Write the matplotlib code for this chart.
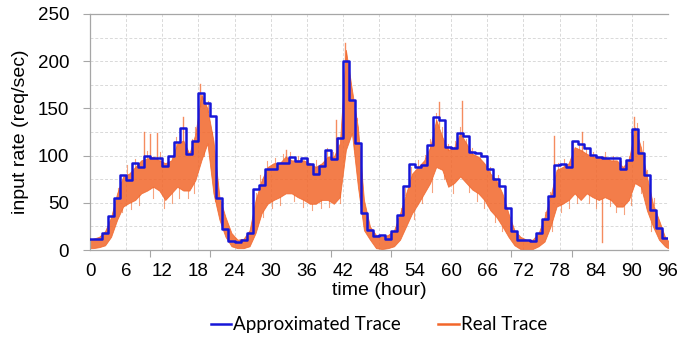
import matplotlib
matplotlib.use('Agg')
import matplotlib.pyplot as plt
import numpy as np
from matplotlib.ticker import MultipleLocator

# Hourly approximated input rate (req/sec), one value per hour 0..95
approx_rate = [12, 12, 18, 36, 55, 80, 74, 92, 88, 100,
               98, 98, 89, 100, 114, 129, 102, 115, 166, 156,
               142, 55, 22, 10, 8, 11, 18, 65, 69, 86,
               86, 92, 92, 99, 94, 98, 91, 81, 89, 106,
               96, 119, 200, 159, 113, 39, 21, 15, 16, 12,
               20, 37, 68, 91, 88, 90, 111, 141, 138, 109,
               108, 124, 121, 104, 103, 100, 86, 75, 68, 45,
               20, 11, 11, 10, 18, 33, 57, 90, 91, 88,
               116, 112, 108, 101, 99, 97, 97, 97, 86, 95,
               128, 103, 80, 42, 23, 13]

# Real trace: lower / upper edge of the measured rate within each hour
real_low = [2, 3, 5, 14, 32, 46, 50, 53, 60, 63,
            67, 63, 53, 60, 67, 63, 63, 74, 95, 113,
            60, 32, 14, 4, 2, 2, 4, 18, 39, 49,
            53, 56, 60, 60, 56, 53, 49, 49, 53, 53,
            49, 56, 106, 124, 67, 21, 11, 2, 1, 2,
            4, 11, 25, 39, 49, 60, 71, 88, 85, 67,
            71, 78, 71, 64, 60, 53, 42, 35, 25, 14,
            5, 1, 1, 1, 4, 9, 25, 46, 49, 53,
            60, 53, 60, 56, 53, 56, 53, 46, 46, 53,
            71, 67, 42, 25, 11, 4]
real_high = [12, 14, 20, 35, 60, 78, 81, 88, 95, 97,
             99, 95, 92, 95, 113, 116, 102, 123, 165, 150,
             116, 56, 35, 18, 11, 12, 21, 53, 74, 88,
             92, 92, 99, 95, 95, 95, 92, 88, 92, 99,
             99, 113, 212, 170, 130, 53, 25, 16, 14, 16,
             21, 39, 60, 81, 88, 95, 109, 138, 120, 106,
             109, 124, 113, 102, 99, 92, 81, 74, 60, 39,
             21, 14, 11, 11, 18, 35, 57, 85, 88, 92,
             109, 106, 102, 99, 99, 99, 95, 95, 88, 95,
             130, 109, 78, 49, 32, 14]
real_start = (2, 10)
real_end = (2, 10)

# Tall isolated spikes in the real trace
peak_hour = [8.9, 10.0, 11.1, 15.4, 18.2, 32.5, 40.8, 42.4, 57.9, 61.8, 77.1, 81.7, 85.0, 90.4]
peak_rate = [125, 123, 124, 141, 176, 106, 138, 219, 157, 158, 121, 125, 8, 141]

# Shorter excursions above / below the band
jitter_hour = [4.6, 5.3, 6.2, 6.8, 7.4, 8.2, 9.5, 10.4, 11.7, 12.3, 12.9, 13.6, 14.2, 14.8,
               15.9, 16.3, 16.9, 17.2, 17.5, 18.6, 19.0, 19.6, 20.3, 20.8, 21.4,
               27.5, 28.2, 28.7, 29.4, 30.2, 30.8, 31.5, 32.1, 33.3, 33.8, 34.6, 35.4,
               36.2, 36.9, 37.6, 38.4, 39.3, 39.7, 40.3, 41.2, 41.6, 43.2, 43.8, 44.3, 44.8,
               51.6, 52.4, 53.3, 53.8, 54.5, 55.2, 55.7, 56.4, 56.8, 57.4, 58.5, 58.8,
               59.5, 60.3, 60.7, 61.4, 62.5, 62.9, 63.5, 64.3, 64.8, 65.5, 66.4, 67.2,
               67.8, 68.5,
               75.6, 76.4, 76.8, 77.7, 78.3, 78.8, 79.5, 80.2, 80.9, 81.3, 82.4, 82.8,
               83.5, 84.1, 85.6, 86.3, 86.8, 87.4, 88.2, 88.7, 89.5, 89.8, 90.9, 91.5,
               91.8, 92.5, 93.2, 93.6]
jitter_rate = [66, 40, 90, 44, 96, 48, 105, 55, 104, 45, 100, 50, 120, 55,
               108, 55, 118, 60, 130, 160, 100, 158, 125, 70, 62,
               60, 80, 35, 94, 45, 98, 48, 102, 104, 52, 100, 46,
               97, 42, 95, 45, 108, 46, 104, 120, 50, 180, 115, 140, 60,
               45, 66, 88, 33, 95, 50, 101, 118, 62, 145, 130, 75,
               112, 60, 115, 130, 118, 62, 108, 52, 104, 45, 88, 30,
               80, 20,
               40, 62, 20, 92, 40, 96, 45, 115, 50, 112, 108, 50,
               104, 45, 104, 47, 100, 40, 94, 38, 100, 48, 135, 60,
               115, 85, 20, 55]

blue = '#1616d8'
orange = '#f2662a'
grid_c = '#d9d9d9'
spine_c = '#a6a6a6'

plt.rcParams['font.family'] = ['Liberation Sans', 'DejaVu Sans']

fig = plt.figure(figsize=(6.94, 3.37), dpi=100)
ax = fig.add_axes([0.1297, 0.258, 0.8328, 0.7005])

hours = np.arange(len(approx_rate) + 1)
t_real = np.concatenate([[0], np.arange(len(real_low)) + 0.5, [len(real_low)]])
lo = np.array([real_start[0]] + real_low + [real_end[0]])
hi = np.array([real_start[1]] + real_high + [real_end[1]])
mid = (lo + hi) / 2

ax.fill_between(t_real, lo, hi, color=orange, alpha=0.85, linewidth=0.6, zorder=2)


def draw_excursions(ts, vs, alpha, lw):
    # each stroke leaves the band from the nearer edge
    for t, v in zip(ts, vs):
        edge = hi if v >= np.interp(t, t_real, mid) else lo
        base = np.interp(t, t_real, edge)
        ax.plot([t, t], [base, v], color=orange, alpha=alpha, linewidth=lw, zorder=2)


draw_excursions(jitter_hour, jitter_rate, 0.6, 0.8)
draw_excursions(peak_hour, peak_rate, 0.75, 1.0)

ax.step(hours, approx_rate + [approx_rate[-1]], where='post', color=blue,
        linewidth=1.8, zorder=3, label='Approximated Trace')
ax.plot([], [], color=orange, linewidth=1.8, label='Real Trace')

ax.set_xlim(0, 96)
ax.set_ylim(0, 250)

ax.xaxis.set_major_locator(MultipleLocator(6))
ax.xaxis.set_minor_locator(MultipleLocator(10))
ax.yaxis.set_major_locator(MultipleLocator(50))
ax.yaxis.set_minor_locator(MultipleLocator(25))
ax.tick_params(axis='x', which='major', length=0, pad=9, labelsize=13.5)
ax.tick_params(axis='x', which='minor', length=5, color=spine_c, width=0.8)
ax.tick_params(axis='y', which='major', length=5, color=spine_c, width=0.8, labelsize=13.5, pad=10)
ax.tick_params(axis='y', which='minor', length=0)

ax.grid(True, axis='x', which='major', color=grid_c, linestyle=(0, (3, 2)), linewidth=0.7)
ax.grid(True, axis='y', which='both', color=grid_c, linestyle=(0, (3, 2)), linewidth=0.7)
ax.set_axisbelow(True)

for side in ['left', 'bottom', 'top']:
    ax.spines[side].set_color(spine_c)
    ax.spines[side].set_linewidth(0.9)
ax.spines['right'].set_visible(False)

ax.set_xlabel('time (hour)', fontsize=14, labelpad=2)
ax.set_ylabel('input rate (req/sec)', fontsize=14, labelpad=6)

fig.legend(loc='center', bbox_to_anchor=(0.546, 0.036), ncol=2, frameon=False,
           prop={'family': 'Lato', 'size': 13.5}, handlelength=1.1, handletextpad=0.1,
           columnspacing=2.0)

fig.savefig('out.png', dpi=100)
